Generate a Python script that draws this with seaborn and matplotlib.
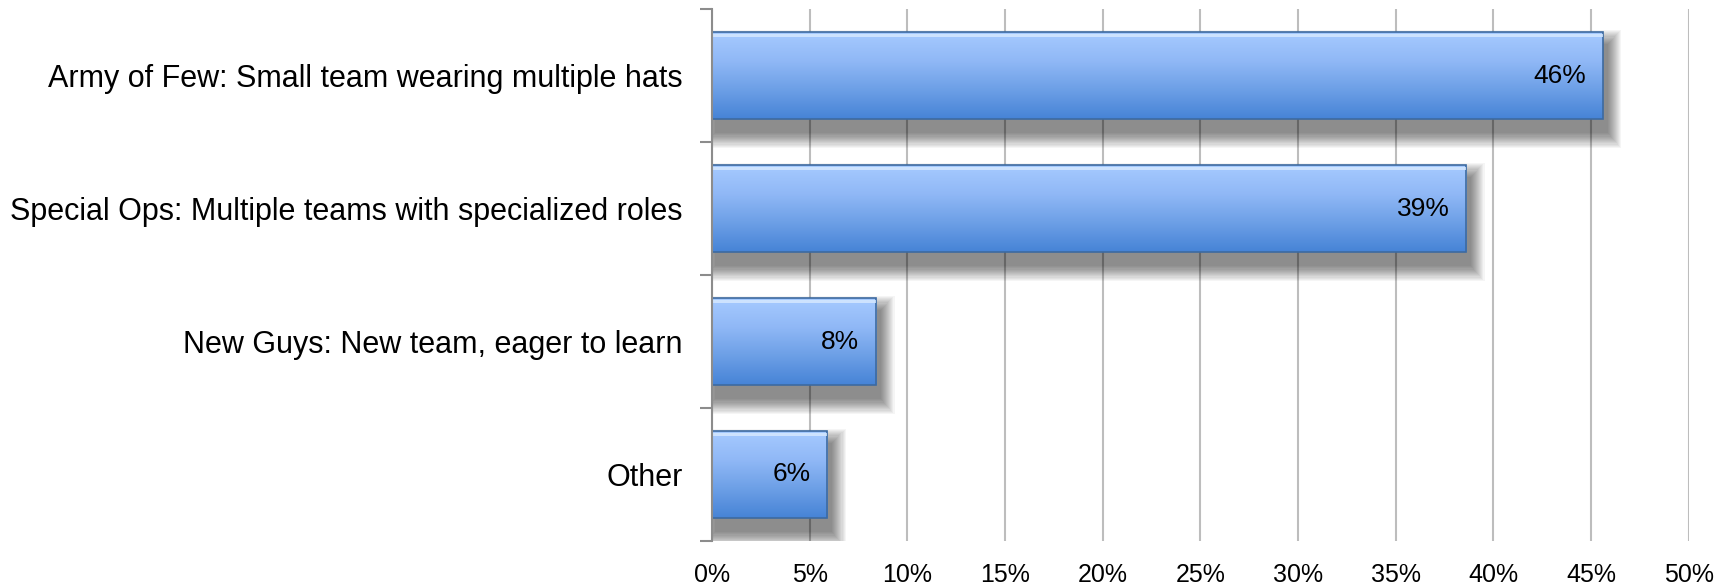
import numpy as np
import pandas as pd
import matplotlib
matplotlib.use("Agg")
import matplotlib.pyplot as plt
import seaborn as sns
from matplotlib.colors import LinearSegmentedColormap
from matplotlib.patches import Rectangle

categories = ["Army of Few: Small team wearing multiple hats",
              "Special Ops: Multiple teams with specialized roles",
              "New Guys: New team, eager to learn",
              "Other"]
values = [45.6, 38.6, 8.4, 5.9]
value_labels = ["46%", "39%", "8%", "6%"]
xticks = [0, 5, 10, 15, 20, 25, 30, 35, 40, 45, 50]
xtick_labels = [f"{t}%" for t in xticks]

df = pd.DataFrame({"category": categories, "value": values})

sns.set_theme(style="white")
plt.rcParams['font.family'] = ['Liberation Sans', 'DejaVu Sans']
plt.rcParams['text.color'] = 'black'
plt.rcParams['xtick.color'] = 'black'
plt.rcParams['ytick.color'] = 'black'

fig = plt.figure(figsize=(17.32, 5.86), dpi=100)
ax = fig.add_axes([0.411, 0.0768, 0.564, 0.9078])

sns.barplot(data=df, x="value", y="category", orient="h", color="#6fa3ec",
            width=0.65, ax=ax, zorder=3, edgecolor="none")

ax.set_xlim(0, 50)
ax.set_ylim(3.5, -0.5)
ax.set_xticks(xticks)
ax.set_xticklabels(xtick_labels, fontsize=18, color="black")
ax.set_yticks(range(len(categories)))
ax.set_yticklabels(categories, fontsize=22, color="black")
ax.tick_params(axis='y', which='major', length=0, pad=21)
ax.tick_params(axis='x', length=0, pad=15.5)
ax.set_xlabel("")
ax.set_ylabel("")

ax.grid(axis='x', color="#bdbdbd", linewidth=1.5, zorder=0)
ax.set_axisbelow(True)
for s in ["top", "right", "bottom"]:
    ax.spines[s].set_visible(False)
ax.spines["left"].set_color("#8c8c8c")
ax.spines["left"].set_linewidth(1.5)
ax.spines["left"].set_zorder(6)

ax.set_yticks([-0.5, 0.5, 1.5, 2.5, 3.5], minor=True)
ax.tick_params(axis='y', which='minor', length=9, width=1.5, color="#8c8c8c", left=True)

cmap = LinearSegmentedColormap.from_list("bar", ["#a6caff", "#90b8f6", "#6c9fe6", "#4683d6"])
grad = np.linspace(0, 1, 256).reshape(-1, 1)

N = 14
for p in list(ax.patches):
    x0, y0 = p.get_x(), p.get_y()
    w, h = p.get_width(), p.get_height()
    # soft blurred shadow
    sx0, sy0 = x0 + 0.2, y0 + 0.1
    for k in range(N):
        dx = 0.75 * (k + 1) / N
        dy = 0.12 * (k + 1) / N
        ax.add_patch(Rectangle((sx0 - dx, sy0 - dy), w + 2 * dx, h + 2 * dy,
                               facecolor="black", alpha=0.04, edgecolor="none",
                               zorder=2))
    im = ax.imshow(grad, cmap=cmap, aspect="auto",
                   extent=[x0, x0 + w, y0 + h, y0], zorder=4, interpolation="bicubic")
    im.set_clip_path(p)
    ax.add_patch(Rectangle((x0, y0), w, h, facecolor="none", edgecolor="#3d6aa0",
                           linewidth=1.2, zorder=5))
    ax.add_patch(Rectangle((x0, y0 + 0.012), w, 0.025, facecolor="#d8eaff",
                           edgecolor="none", alpha=0.8, zorder=5))

ax.set_xlim(0, 50)
ax.set_ylim(3.5, -0.5)

for i, (v, lab) in enumerate(zip(values, value_labels)):
    ax.text(v - 0.85, i, lab, ha="right", va="center", fontsize=19,
            color="black", zorder=7)

fig.savefig("out.png", dpi=100)
